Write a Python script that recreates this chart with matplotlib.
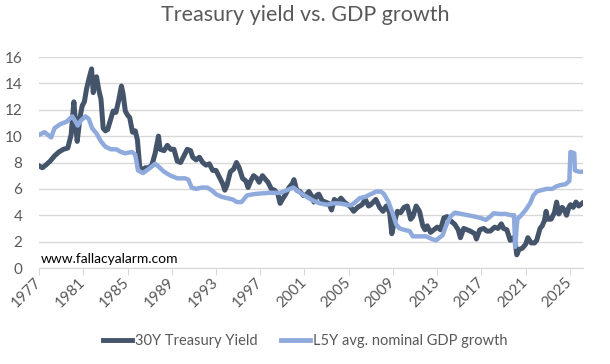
import matplotlib.pyplot as plt

# 30Y Treasury yield (year, %)
yield_years = [1977.0, 1977.3, 1977.6, 1978.0, 1978.4, 1978.8, 1979.2, 1979.6, 1979.9, 1980.15,
               1980.3, 1980.45, 1980.7, 1980.9, 1981.1, 1981.3, 1981.5, 1981.75, 1981.9, 1982.0,
               1982.2, 1982.4, 1982.6, 1982.8, 1983.0, 1983.2, 1983.45, 1983.7, 1983.95, 1984.2,
               1984.45, 1984.6, 1984.8, 1985.0, 1985.2, 1985.45, 1985.7, 1985.9, 1986.1, 1986.3,
               1986.6, 1986.9, 1987.2, 1987.5, 1987.8, 1987.95, 1988.3, 1988.6, 1988.9, 1989.2,
               1989.5, 1989.8, 1990.1, 1990.4, 1990.7, 1990.9, 1991.2, 1991.5, 1991.8, 1992.1,
               1992.4, 1992.7, 1993.0, 1993.3, 1993.6, 1993.8, 1994.0, 1994.3, 1994.6, 1994.85,
               1995.1, 1995.4, 1995.7, 1995.9, 1996.2, 1996.4, 1996.7, 1996.9, 1997.2, 1997.4,
               1997.7, 1998.0, 1998.3, 1998.6, 1998.8, 1999.0, 1999.3, 1999.6, 1999.9, 2000.05,
               2000.3, 2000.6, 2000.9, 2001.1, 2001.4, 2001.7, 2001.85, 2002.1, 2002.3, 2002.6,
               2002.9, 2003.2, 2003.45, 2003.7, 2004.0, 2004.3, 2004.6, 2004.9, 2005.1, 2005.45,
               2005.8, 2006.2, 2006.5, 2006.8, 2007.0, 2007.45, 2007.8, 2008.1, 2008.4, 2008.7,
               2008.9, 2009.05, 2009.4, 2009.7, 2010.0, 2010.3, 2010.6, 2010.8, 2011.1, 2011.4,
               2011.7, 2011.9, 2012.1, 2012.4, 2012.7, 2013.0, 2013.3, 2013.6, 2013.9, 2014.2,
               2014.6, 2014.9, 2015.1, 2015.4, 2015.7, 2016.0, 2016.4, 2016.55, 2016.85, 2017.2,
               2017.5, 2017.8, 2018.2, 2018.5, 2018.8, 2019.0, 2019.3, 2019.6, 2019.9, 2020.05,
               2020.2, 2020.4, 2020.7, 2021.0, 2021.2, 2021.5, 2021.8, 2022.0, 2022.3, 2022.5,
               2022.7, 2022.85, 2023.0, 2023.3, 2023.6, 2023.8, 2024.0, 2024.3, 2024.5, 2024.7,
               2024.9, 2025.05, 2025.3, 2025.55, 2025.8, 2026.1]
yield_vals = [7.75, 7.6, 7.8, 8.1, 8.5, 8.8, 9.0, 9.1, 10.1, 12.6,
              11.0, 9.6, 11.4, 12.3, 12.6, 13.6, 14.3, 15.1, 13.3, 14.0,
              14.5, 13.5, 12.8, 10.6, 10.4, 10.5, 11.2, 11.9, 11.8, 12.7,
              13.8, 13.2, 11.9, 11.6, 11.4, 10.3, 10.4, 9.7, 7.7, 7.4,
              7.6, 7.6, 7.8, 8.7, 10.0, 9.0, 8.9, 9.3, 9.0, 9.0,
              8.1, 8.0, 8.5, 9.0, 8.9, 8.4, 8.2, 8.4, 8.0, 7.8,
              7.9, 7.4, 7.4, 6.9, 6.4, 5.9, 6.3, 7.3, 7.5, 8.0,
              7.6, 6.8, 6.6, 6.1, 6.7, 7.0, 6.8, 6.5, 7.0, 6.8,
              6.5, 6.0, 5.9, 5.6, 4.9, 5.2, 5.6, 6.1, 6.4, 6.7,
              5.9, 5.8, 5.5, 5.5, 5.8, 5.4, 5.0, 5.5, 5.6, 5.1,
              5.0, 4.9, 4.4, 5.2, 5.0, 5.3, 5.0, 4.8, 4.7, 4.3,
              4.6, 4.8, 5.2, 4.7, 4.8, 5.2, 4.6, 4.3, 4.7, 4.2,
              2.6, 3.2, 4.3, 4.2, 4.6, 4.7, 3.7, 3.9, 4.7, 4.3,
              3.2, 2.9, 3.2, 2.7, 2.9, 3.1, 2.9, 3.8, 3.9, 3.6,
              3.3, 2.9, 2.3, 3.0, 2.9, 2.8, 2.6, 2.2, 2.9, 3.0,
              2.8, 2.8, 3.1, 3.0, 3.35, 3.0, 2.9, 2.1, 2.3, 2.0,
              1.0, 1.4, 1.5, 1.8, 2.3, 1.9, 1.9, 2.1, 3.0, 3.2,
              3.6, 4.3, 3.7, 3.7, 4.2, 5.0, 4.1, 4.6, 4.4, 4.0,
              4.6, 4.8, 4.6, 5.0, 4.7, 4.9]

# Last-5Y average nominal GDP growth (year, %)
gdp_years = [1977.0, 1977.5, 1977.8, 1978.1, 1978.4, 1978.9, 1979.5, 1980.0, 1980.3, 1980.5,
             1980.8, 1981.2, 1981.5, 1981.8, 1982.2, 1982.6, 1983.0, 1983.5, 1984.0, 1984.4,
             1984.8, 1985.4, 1985.7, 1985.95, 1986.4, 1986.9, 1987.5, 1987.8, 1988.3, 1988.9,
             1989.5, 1990.2, 1990.5, 1990.8, 1991.2, 1991.7, 1992.2, 1992.6, 1993.0, 1993.5,
             1994.0, 1994.5, 1994.9, 1995.3, 1995.8, 1996.4, 1997.0, 1997.8, 1998.8, 1999.4,
             2000.0, 2000.3, 2000.8, 2001.4, 2001.8, 2002.4, 2003.0, 2003.6, 2004.2, 2004.8,
             2005.2, 2005.6, 2006.0, 2006.5, 2007.0, 2007.5, 2007.9, 2008.2, 2008.6, 2008.95,
             2009.3, 2009.6, 2010.0, 2010.5, 2010.8, 2011.5, 2012.0, 2012.5, 2012.9, 2013.5,
             2013.8, 2014.2, 2014.6, 2015.2, 2015.8, 2016.4, 2016.9, 2017.4, 2017.8, 2018.1,
             2018.6, 2019.2, 2019.7, 2019.95, 2020.05, 2020.25, 2020.6, 2021.0, 2021.4, 2021.7,
             2022.0, 2022.4, 2022.9, 2023.4, 2023.8, 2024.2, 2024.6, 2024.95, 2025.05, 2025.4,
             2025.45, 2025.8, 2026.1]
gdp_vals = [10.1, 10.3, 10.1, 9.9, 10.6, 10.9, 11.1, 11.5, 11.1, 10.8,
            11.2, 11.5, 11.3, 10.6, 10.2, 9.6, 9.2, 9.0, 9.0, 8.8,
            8.7, 8.8, 8.6, 7.4, 7.2, 7.5, 7.9, 7.7, 7.3, 7.0,
            6.8, 6.8, 6.7, 6.1, 6.0, 6.1, 6.1, 5.9, 5.6, 5.4,
            5.3, 5.2, 5.0, 5.0, 5.5, 5.6, 5.65, 5.7, 5.7, 5.9,
            6.1, 5.9, 5.6, 5.3, 5.1, 4.9, 4.8, 4.9, 4.9, 4.8,
            4.75, 5.0, 5.3, 5.4, 5.6, 5.8, 5.8, 5.6, 5.0, 4.2,
            3.3, 3.0, 2.9, 2.8, 2.4, 2.4, 2.4, 2.2, 2.1, 2.5,
            3.2, 3.9, 4.2, 4.1, 4.0, 3.9, 3.8, 3.65, 3.9, 4.15,
            4.1, 4.1, 4.0, 4.0, 1.6, 3.7, 4.0, 4.4, 4.9, 5.5,
            5.8, 5.9, 6.0, 6.0, 6.2, 6.3, 6.35, 6.6, 8.8, 8.7,
            7.4, 7.3, 7.3]

year_ticks = list(range(1977, 2026, 4))

plt.rcParams['font.family'] = ['Lato', 'DejaVu Sans']
grey = '#595959'

fig = plt.figure(figsize=(6.1, 3.64), dpi=100)
ax = fig.add_axes([0.064, 0.2637, 0.892, 0.5797])

ax.plot(yield_years, yield_vals, color='#44546A', lw=3.6, label='30Y Treasury Yield',
        solid_joinstyle='round')
ax.plot(gdp_years, gdp_vals, color='#8FAADC', lw=3.2, label='L5Y avg. nominal GDP growth',
        solid_joinstyle='round')

ax.set_xlim(1977, 2026.2)
ax.set_ylim(0, 16)
ax.set_yticks(range(0, 17, 2))
ax.set_xticks(year_ticks)
ax.set_xticklabels([str(y) for y in year_ticks], rotation=45, ha='right', va='center',
                   rotation_mode='anchor')
ax.grid(axis='y', color='#d9d9d9', lw=1)
ax.set_axisbelow(True)
for s in ['top', 'right', 'left']:
    ax.spines[s].set_visible(False)
ax.spines['bottom'].set_color('#d9d9d9')
ax.tick_params(axis='y', length=0, pad=12, labelsize=11, labelcolor=grey)
ax.tick_params(axis='x', length=5, color='#d9d9d9', pad=4, labelsize=11, labelcolor=grey)

ax.text(0.003, 0.012, 'www.fallacyalarm.com', transform=ax.transAxes, fontsize=10,
        color='black', va='bottom')

fig.suptitle('Treasury yield vs. GDP growth', x=0.5, y=0.985, fontsize=15.5, color=grey)

leg = fig.legend(loc='center', bbox_to_anchor=(0.5, 0.063), ncol=2, frameon=False,
                 fontsize=10.5, handlelength=2.0, handletextpad=0.2, columnspacing=1.6)
for t in leg.get_texts():
    t.set_color(grey)
for h in leg.get_lines():
    h.set_linewidth(3.5)

fig.savefig('out.png', dpi=100)
